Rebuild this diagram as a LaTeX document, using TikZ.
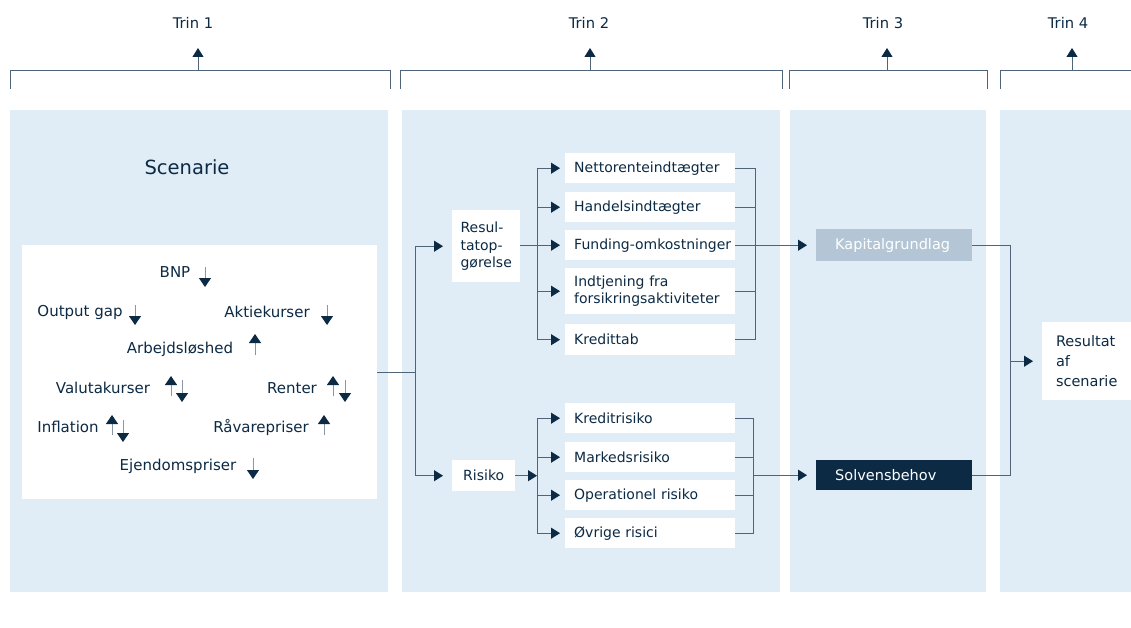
\documentclass[tikz,border=0pt]{standalone}
\usepackage{fontspec}
\setmainfont{DejaVu Sans}
\usetikzlibrary{arrows.meta}
\definecolor{panel}{HTML}{E0ECF6}
\definecolor{navy}{HTML}{0C2A44}
\definecolor{lin}{HTML}{4F6478}
\definecolor{stem}{HTML}{8797A8}
\definecolor{kap}{HTML}{B4C6D6}
\begin{document}
\begin{tikzpicture}[x=1pt,y=-1pt,
  conn/.style={draw=lin, line width=1pt},
  arr/.style={conn, -{Triangle[length=9pt,width=11pt,color=navy]}},
  varr/.style={draw=stem, line width=1pt, -{Triangle[length=9pt,width=12pt,color=navy]}},
  pan/.style={fill=panel, draw=none},
  trin/.style={font=\fontsize{14.7}{17}\selectfont, text=navy},
  var/.style={font=\fontsize{15}{18}\selectfont, text=navy},
  bx/.style={fill=white, inner xsep=9pt, inner ysep=0pt, minimum height=30pt, anchor=north west,
     text width=152pt, align=left, font=\fontsize{14}{17}\selectfont, text=navy},
  sbx/.style={fill=white, inner xsep=8pt, inner ysep=0pt, anchor=north west,
     align=left, font=\fontsize{14}{17.5}\selectfont, text=navy},
]
\useasboundingbox (0,0) rectangle (1131,628);
\fill[white] (0,0) rectangle (1131,628);
% panels
\fill[pan] (10,110) rectangle (388,592);
\fill[pan] (402,110) rectangle (780,592);
\fill[pan] (790,110) rectangle (986,592);
\fill[pan] (1000,110) rectangle (1131,592);
% brackets
\draw[conn] (10,89) |- (390,71) -- (390,89);
\draw[conn] (400,89) |- (782,71) -- (782,89);
\draw[conn] (789,89) |- (987,71) -- (987,89);
\draw[conn] (1000,89) |- (1131,71);
\node[trin] (t1) at (193,23) {Trin 1};
\node[trin] (t2) at (589,23) {Trin 2};
\node[trin] (t3) at (883,23) {Trin 3};
\node[trin] (t4) at (1068,23) {Trin 4};
\coordinate (b1) at (198,71); \coordinate (b2) at (590,71);
\coordinate (b3) at (887,71); \coordinate (b4) at (1072,71);
\draw[arr] (b1) -- ++(0,-23);
\draw[arr] (b2) -- ++(0,-23);
\draw[arr] (b3) -- ++(0,-23);
\draw[arr] (b4) -- ++(0,-23);
% scenario
\node[font=\fontsize{19.5}{22}\selectfont, text=navy] (scentitle) at (187,167) {Scenarie};
\node[fill=white, anchor=north west, minimum width=355pt, minimum height=254pt, inner sep=0pt] (scen) at (22,245) {};
\node[var] (bnp) at (175,272) {BNP};
\node[var] (og) at (80,312) {Output gap};
\node[var] (akt) at (267,312) {Aktiekurser};
\node[var] (arb) at (180,349) {Arbejdsløshed};
\node[var] (val) at (103,388) {Valutakurser};
\node[var] (ren) at (292,388) {Renter};
\node[var] (inf) at (68,427) {Inflation};
\node[var] (raa) at (261,427) {Råvarepriser};
\node[var] (ejd) at (178,466) {Ejendomspriser};
\draw[varr] (205,267) -- (205,287);
\draw[varr] (135,305) -- (135,325);
\draw[varr] (327,305) -- (327,325);
\draw[varr] (255,355) -- (255,334);
\draw[varr] (171,396) -- (171,376);
\draw[varr] (182,380) -- (182,402);
\draw[varr] (333,396) -- (333,376);
\draw[varr] (345,380) -- (345,402);
\draw[varr] (112,435) -- (112,415);
\draw[varr] (123,420) -- (123,442);
\draw[varr] (324,435) -- (324,415);
\draw[varr] (253,458) -- (253,479);
% step 2 boxes
\node[sbx, minimum width=68pt, minimum height=72pt] (res) at (452,210) {Resul-\\tatop-\\gørelse};
\node[sbx, minimum width=63pt, minimum height=31pt] (ris) at (452,460) {Risiko};
\node[bx] (n1) at (565,153) {Nettorenteindtægter};
\node[bx] (n2) at (565,192) {Handelsindtægter};
\node[bx] (n3) at (565,230) {\mbox{Funding-omkostninger}};
\node[bx, minimum height=46pt] (n4) at (565,268) {Indtjening fra\\forsikringsaktiviteter};
\node[bx, minimum height=31pt] (n5) at (565,324) {Kredittab};
\node[bx] (m1) at (565,403) {Kreditrisiko};
\node[bx] (m2) at (565,442) {Markedsrisiko};
\node[bx] (m3) at (565,480) {Operationel risiko};
\node[bx] (m4) at (565,518) {Øvrige risici};
% step 3 boxes
\node[bx, fill=kap, text=white, text width=136pt, inner xsep=10pt, minimum height=32pt, font=\fontsize{14.5}{17}\selectfont] (kap) at (816,229) {\hspace*{9pt}Kapitalgrundlag};
\node[bx, fill=navy, text=white, text width=136pt, inner xsep=10pt, minimum height=30pt, font=\fontsize{14.5}{17}\selectfont] (solv) at (816,460) {\hspace*{9pt}Solvensbehov};
% step 4 box
\node[sbx, inner xsep=10pt, minimum width=89pt, minimum height=78pt, font=\fontsize{14.5}{20}\selectfont] (resul) at (1042,322) {Resultat\\af\\scenarie};
% connectors
\coordinate (j1) at (415,0 |- scen.east);
\draw[conn] (scen.east) -- (j1);
\draw[arr, shorten >=9pt] (j1) |- (res.west);
\draw[arr, shorten >=9pt] (j1) |- (ris.west);
\coordinate (j2) at (537,0 |- n3.west);
\draw[conn] (res.east |- j2) -- (j2);
\draw[arr, shorten >=5pt] (j2) |- (n1.west);
\draw[arr, shorten >=5pt] (j2) |- (n2.west);
\draw[arr, shorten >=5pt] (j2) -- (n3.west);
\draw[arr, shorten >=5pt] (j2) |- (n4.west);
\draw[arr, shorten >=5pt] (j2) |- (n5.west);
\coordinate (k1) at (755,0 |- n3.east);
\draw[conn] (n1.east) -| (k1);
\draw[conn] (n2.east) -| (k1);
\draw[conn] (n4.east) -| (k1);
\draw[conn] (n5.east) -| (k1);
\draw[arr, shorten >=9pt] (n3.east) -- (kap.west);
\coordinate (r1) at (537,0 |- ris.east);
\draw[arr] (ris.east) -- (r1);
\draw[arr, shorten >=5pt] (r1) |- (m1.west);
\draw[arr, shorten >=5pt] (r1) |- (m2.west);
\draw[arr, shorten >=5pt] (r1) |- (m3.west);
\draw[arr, shorten >=5pt] (r1) |- (m4.west);
\coordinate (r2) at (753,0 |- solv.west);
\draw[conn] (m1.east) -| (r2);
\draw[conn] (m2.east) -| (r2);
\draw[conn] (m3.east) -| (r2);
\draw[conn] (m4.east) -| (r2);
\draw[arr, shorten >=9pt] (r2) -- (solv.west);
\coordinate (f1) at (1010,0 |- resul.west);
\draw[conn] (kap.east) -| (f1);
\draw[conn] (solv.east) -| (f1);
\draw[arr, shorten >=9pt] (f1) -- (resul.west);
\end{tikzpicture}
\end{document}
